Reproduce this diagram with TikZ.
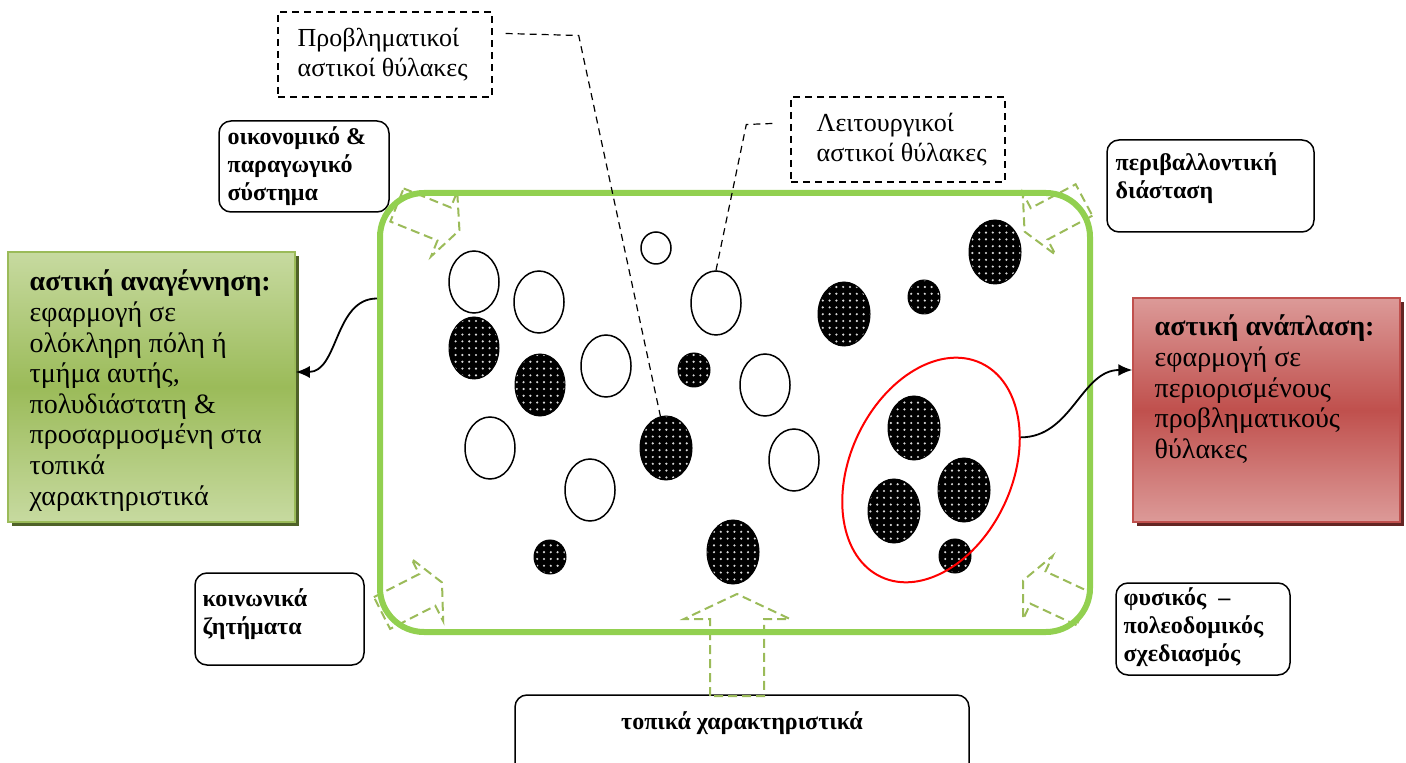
\documentclass[tikz,border=0pt]{standalone}
\usepackage{fontspec}
\setmainfont{Liberation Serif}
\usetikzlibrary{positioning,shapes.geometric,patterns.meta,arrows.meta,shadows}

\definecolor{citygreen}{HTML}{92D050}
\definecolor{olivegreen}{HTML}{9BBB59}
\definecolor{palegreen}{HTML}{C7DAA0}
\definecolor{darkolive}{HTML}{4F6228}
\definecolor{brickred}{HTML}{C0504D}
\definecolor{palered}{HTML}{DC9A98}
\definecolor{darkbrick}{HTML}{632523}

\tikzdeclarepattern{
  name=celldots,
  type=uncolored,
  bounding box={(-1.7pt,-1.7pt) and (1.7pt,1.7pt)},
  tile size={(3.4pt,3.4pt)},
  code={\fill (0pt,0pt) circle [radius=0.6pt];}
}

\tikzset{
  lcell/.style={ellipse, draw=black, line width=0.75pt, fill=white, inner sep=0pt},
  pcell/.style={ellipse, draw=black, line width=0.5pt, inner sep=0pt,
    preaction={fill=black}, pattern=celldots, pattern color=white!85!black},
  cellbox/.style={draw, line width=0.7pt, dash pattern=on 3.5pt off 2.5pt, inner sep=0pt},
  celltext/.style={font=\fontsize{13}{15}\selectfont, align=left, inner sep=0pt},
  factorbox/.style={draw, line width=0.75pt, rounded corners=6pt, fill=white, inner sep=0pt},
  factortext/.style={font=\bfseries\fontsize{12}{14}\selectfont, align=left, inner sep=0pt},
  policytext/.style={font=\fontsize{14}{15.3}\selectfont, align=left, inner sep=0pt},
  flowarrow/.style={draw=olivegreen, line width=1pt, dash pattern=on 4.5pt off 2.5pt},
  leader/.style={line width=0.6pt, dash pattern=on 3.5pt off 2.5pt},
  linkarrow/.style={line width=0.9pt, -{Latex[length=7pt, width=6pt]}}
}

\begin{document}
\begin{tikzpicture}[x=0.5pt, y=-0.5pt]

\useasboundingbox (0,0) rectangle (1406,763);

% factors
\node[factorbox, minimum width=85pt, minimum height=45.5pt] (econ) at (304,166.5) {};
\node[factortext, below right=3pt and 4.5pt of econ.north west] (econtxt) {οικονομικό \&\\παραγωγικό\\σύστημα};
\node[factorbox, minimum width=103.5pt, minimum height=46pt] (envir) at (1210.5,186) {};
\node[factortext, below right=6.5pt and 4.5pt of envir.north west] (envirtxt) {περιβαλλοντική\\διάσταση};
\node[factorbox, minimum width=84.5pt, minimum height=46pt] (social) at (279.5,619) {};
\node[factortext, below right=8pt and 4pt of social.north west] (socialtxt) {κοινωνικά\\ζητήματα};
\node[factorbox, minimum width=87pt, minimum height=46pt] (physical) at (1203,629) {};
\node[factortext, below right=2.75pt and 4pt of physical.north west] (physicaltxt) {φυσικός \ –\\πολεοδομικός\\σχεδιασμός};
\node[factorbox, minimum width=227pt, minimum height=45pt] (local) at (742,740) {};
\node[factortext, below=8.5pt of local.north] (localtxt) {τοπικά χαρακτηριστικά};

% influence arrows
\foreach \x/\y/\a/\s in {397/205/-22/0.66, 1084/200/208/0.66, 382/613/27/0.66, 1084/609/155/0.66, 737/696/90/1}
  \draw[flowarrow, shift={(\x,\y)}, rotate=\a, scale=\s]
    (0,-27) -- (77,-27) -- (77,-53) -- (102,0) -- (77,53) -- (77,27) -- (0,27) -- cycle;

% city
\node[draw=citygreen, line width=3pt, rounded corners=22pt, minimum width=355pt, minimum height=219.5pt] (city) at (735,412.5) {};

% functional cells
\foreach \x/\y/\rx/\ry [count=\i] in {656/248/15/16, 474/282/25/31, 539/302/25/31, 716/303/25/32, 606/366/25/31,
    765/385/25/31, 490/448/25/31, 794/460/25/31, 590/490/25/31}
  \node[lcell, minimum width=\rx pt, minimum height=\ry pt] (lcell\i) at (\x,\y) {};

% problematic cells
\foreach \x/\y/\rx/\ry [count=\i] in {474/348/25/31, 540/385/25/31, 694/370/16/17, 666/448/26/32, 733/552/26/32,
    550/557/16/17, 844/314/26/32, 924/297/16/17, 995/252/26/32, 914/428/26/32, 894/511/26/32, 964/490/26/32, 955/556/16/17}
  \node[pcell, minimum width=\rx pt, minimum height=\ry pt] (pcell\i) at (\x,\y) {};

\node[ellipse, draw=red, line width=1pt, minimum width=118pt, minimum height=81pt, rotate=65, inner sep=0pt] (zone) at (931,470) {};

% cell labels
\node[cellbox, minimum width=107pt, minimum height=42.5pt] (probl) at (385,54.5) {};
\node[celltext, right=10pt of probl.west] (probltxt) {Προβληματικοί\\αστικοί θύλακες};
\node[cellbox, minimum width=107pt, minimum height=42.5pt] (func) at (898,139.5) {};
\node[celltext, right=13pt of func.west] (functxt) {Λειτουργικοί\\αστικοί θύλακες};

\draw[leader] (probl.east) ++(13,-21) -- ++(73,2) -- (pcell4.100);
\draw[leader] (func.west) ++(-18,-16) -- ++(-26,1) -- (lcell4.north);

% policies
\node[draw=olivegreen, line width=0.75pt, inner sep=0pt, minimum width=143.5pt, minimum height=135pt,
  top color=palegreen, bottom color=palegreen, middle color=olivegreen,
  drop shadow={fill=darkolive, opacity=1, shadow xshift=2pt, shadow yshift=-2pt}] (regen) at (151.5,387) {};
\node[policytext, below right=9.25pt and 11pt of regen.north west] (regentxt) {{\bfseries αστική αναγέννηση:}\\εφαρμογή σε\\ολόκληρη πόλη ή\\τμήμα αυτής,\\πολυδιάστατη \&\\προσαρμοσμένη στα\\τοπικά\\χαρακτηριστικά};
\node[draw=brickred, line width=0.75pt, inner sep=0pt, minimum width=133.5pt, minimum height=112pt,
  top color=palered, bottom color=palered, middle color=brickred,
  drop shadow={fill=darkbrick, opacity=1, shadow xshift=2pt, shadow yshift=-2pt}] (renew) at (1266.5,410) {};
\node[policytext, below right=8.75pt and 11pt of renew.north west] (renewtxt) {{\bfseries αστική ανάπλαση:}\\εφαρμογή σε\\περιορισμένους\\προβληματικούς\\θύλακες};

\draw[linkarrow] ([yshift=57pt]city.west) to[out=180, in=0] ([yshift=7.5pt]regen.east);
\draw[linkarrow] (zone.-45) to[out=0, in=180] ([yshift=20pt]renew.west);

\end{tikzpicture}
\end{document}
